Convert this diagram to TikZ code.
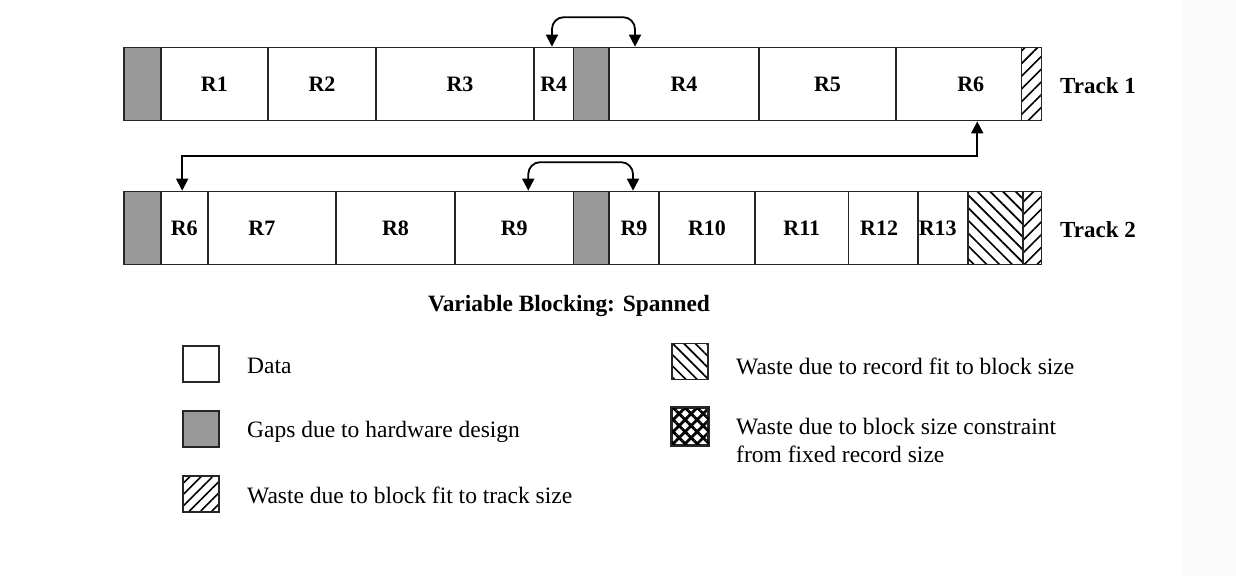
\documentclass[tikz,border=0pt]{standalone}
\usepackage{fontspec}
\setmainfont{Liberation Serif}
\usetikzlibrary{arrows.meta,patterns.meta}
\begin{document}
\begin{tikzpicture}[x=1pt,y=-1pt,
  seg/.style={draw=black!85, line width=1.7pt, fill=white, minimum height=73pt,
    inner sep=0pt, font=\fontsize{22}{24}\selectfont\bfseries},
  gapseg/.style={seg, fill=black!40},
  fitw/.style={seg, pattern={Lines[angle=45,distance=9pt,line width=1.6pt]}},
  recw/.style={seg, pattern={Lines[angle=-45,distance=9pt,line width=1.7pt]}},
  arr/.style={line width=1.8pt, {Triangle[width=12pt,length=12pt]}-{Triangle[width=12pt,length=12pt]}},
  lbl/.style={font=\fontsize{23}{26}\selectfont\bfseries, anchor=west, inner sep=0pt},
  legtxt/.style={font=\fontsize{23.5}{28}\selectfont, anchor=west, inner sep=0pt, align=left},
  legbox/.style={draw=black!85, line width=1.8pt, minimum width=36pt, minimum height=36pt, inner sep=0pt, fill=white},
  legfitw/.style={legbox, pattern={Lines[angle=45,distance=8pt,line width=1.6pt]}},
  legrecw/.style={legbox, pattern={Lines[angle=-45,distance=8pt,line width=1.7pt]}},
  xpat/.style={pattern={Lines[angle=45,distance=8.5pt,line width=2.8pt]}},
  ypat/.style={pattern={Lines[angle=-45,distance=8.5pt,line width=2.8pt]}}
]
\newcommand\seg[6]{\node[#5, minimum width={#3-#2}] (#1) at ({(#2+#3)/2},#4) {\raisebox{-3pt}{#6}};}
\useasboundingbox (0,0) rectangle (1236,576);
\fill[white] (0,0) rectangle (1236,576);
\fill[black!2] (1182,0) rectangle (1236,576);

% Track 1
\seg{t1g1}{124}{160.7}{84}{gapseg}{}
\seg{t1r1}{160.7}{268}{84}{seg}{R1}
\seg{t1r2}{268}{376}{84}{seg}{R2}
\seg{t1r3}{376}{534}{84}{seg}{\hspace{10pt}R3}
\seg{t1r4a}{534}{573.5}{84}{seg}{R4}
\seg{t1g2}{573.5}{609}{84}{gapseg}{}
\seg{t1r4b}{609}{759}{84}{seg}{R4}
\seg{t1r5}{759}{896}{84}{seg}{R5}
\seg{t1r6}{896}{1021.5}{84}{seg}{\hspace{24pt}R6}
\seg{t1w}{1021.5}{1041.5}{84}{fitw}{}
\node[lbl] (tr1) at (1060,86) {Track 1};

% Track 2
\seg{t2g1}{124}{160.7}{228}{gapseg}{}
\seg{t2r6}{160.7}{207.7}{228}{seg}{R6}
\seg{t2r7}{207.7}{336}{228}{seg}{R7\hspace{20pt}}
\seg{t2r8}{336}{455}{228}{seg}{R8}
\seg{t2r9a}{455}{573.5}{228}{seg}{R9}
\seg{t2g2}{573.5}{609}{228}{gapseg}{}
\seg{t2r9b}{609}{659}{228}{seg}{R9}
\seg{t2r10}{659}{755}{228}{seg}{R10}
\seg{t2r11}{755}{848.5}{228}{seg}{R11}
\seg{t2r12}{848.5}{917.7}{228}{seg}{\hspace{-8pt}R12}
\seg{t2r13}{917.7}{967.7}{228}{seg}{\hspace{-10pt}R13}
\seg{t2w1}{967.7}{1022.7}{228}{recw}{}
\seg{t2w2}{1022.7}{1041.5}{228}{fitw}{}
\node[lbl] (tr2) at (1060,230) {Track 2};

% Connectors
\draw[arr, rounded corners=12pt] ([xshift=-1.8pt]t1r4a.north) -- ++(0,-29.5) -| ([xshift=-49pt]t1r4b.north);
\draw[arr] ([xshift=18.5pt]t1r6.south) -- ++(0,34.5) -| ([xshift=-2pt]t2r6.north);
\draw[arr, rounded corners=12pt] ([xshift=14pt]t2r9a.north) -- ++(0,-28.5) -| ([xshift=-1pt]t2r9b.north);

% Title
\node[font=\fontsize{23.4}{26}\selectfont\bfseries, inner sep=0pt] (title) at (569,306) {Variable Blocking: Spanned};

% Legend
\node[legbox] (ldata) at (201,364) {};
\node[legtxt] (tdata) at (247,366) {Data};
\node[legbox, fill=black!40] (lgap) at (201,429) {};
\node[legtxt] (tgap) at (247,432) {Gaps due to hardware design};
\node[legfitw] (lfit) at (201,494) {};
\node[legtxt] (tfit) at (247,495) {Waste due to block fit to track size};

\node[legrecw] (lrec) at (690,361.5) {};
\node[legtxt] (trec) at (736,366) {Waste due to record fit to block size};
\node[legbox, xpat] (lcon) at (690,426.5) {};
\path[ypat] (lcon.north west) rectangle (lcon.south east);
\draw[draw=black!85, line width=1.8pt] (lcon.north west) rectangle (lcon.south east);
\node[legtxt, anchor=north west] (tcon) at (736,418) {Waste due to block size constraint\\from fixed record size};
\end{tikzpicture}
\end{document}
